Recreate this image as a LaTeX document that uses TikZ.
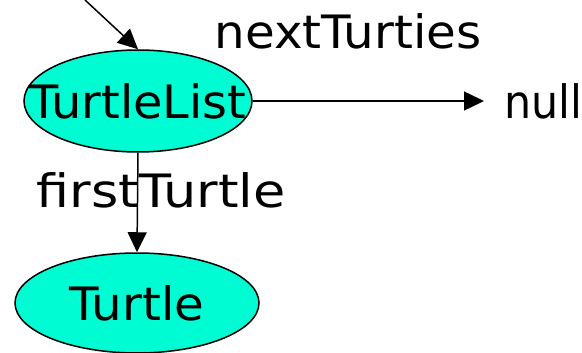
\documentclass[tikz,border=0pt]{standalone}
\usepackage{fontspec}
\setmainfont{DejaVu Sans}
\usetikzlibrary{shapes.geometric,arrows.meta}
\definecolor{turtlefill}{RGB}{0,252,210}
% horizontally stretched label text
\newcommand{\stretchtext}[2]{\scalebox{#1}[1]{#2}}
\begin{document}
\begin{tikzpicture}[x=1pt,y=-1pt,
  obj/.style={ellipse,draw=black,line width=1.5pt,fill=turtlefill,inner sep=0pt},
  ref/.style={line width=1.5pt,-{Triangle[length=20pt,width=19pt]}},
  lbl/.style={font=\fontsize{46}{50}\selectfont,inner sep=0pt}]
\useasboundingbox (0,0) rectangle (582,353);
\node[obj,minimum width=228pt,minimum height=102pt] (list) at (138,101) {};
\node[lbl] at (list.center) {\stretchtext{1.04}{TurtleList}};
\node[obj,minimum width=244pt,minimum height=100pt] (turtle) at (137,303) {};
\node[lbl] at (turtle.center) {\stretchtext{1.05}{Turtle}};
\node[lbl,anchor=west] (null) at (504,101) {\stretchtext{0.93}{null}};
\coordinate (in) at (85,0);
\coordinate (nullend) at (484,101);
\draw[ref] (in) -- (list.north);
\draw[ref] (list.east) -- (nullend);
\draw[ref] (list.south) -- (turtle.north);
\node[lbl] (next) at (348,31) {\stretchtext{1.05}{nextTurties}};
\node[lbl] (first) at (161,190) {\stretchtext{1.14}{firstTurtle}};
\end{tikzpicture}
\end{document}
